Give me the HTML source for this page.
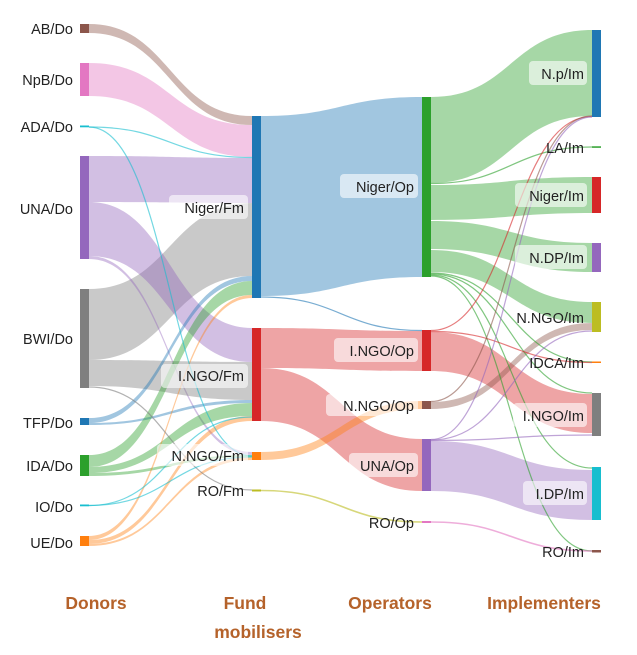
<!DOCTYPE html>
<html><head><meta charset="utf-8"><style>
html,body{margin:0;padding:0;background:#fff;}
svg{display:block;font-family:"Liberation Sans",sans-serif;}
.l{font-size:14.5px;fill:#222;}
.h{font-size:17.5px;font-weight:bold;fill:#b5622a;}
</style></head><body>
<svg width="637" height="655" viewBox="0 0 637 655" xmlns="http://www.w3.org/2000/svg">
<g fill-opacity="0.42" stroke="none">
<!-- Donor -> Fm -->
<path fill="#8c564b" d="M89 24C170 24 170 116 252 116L252 125C170 125 170 33 89 33Z"/>
<path fill="#e377c2" d="M89 63C170 63 170 125 252 125L252 157C170 157 170 96 89 96Z"/>
<path fill="#9467bd" d="M89 156C170 156 170 158 252 158L252 203C170 203 170 202 89 202Z"/>
<path fill="#7f7f7f" d="M89 289C170 289 170 203 252 203L252 276C170 276 170 360 89 360Z"/>
<path fill="#9467bd" d="M89 202C170 202 170 328 252 328L252 362C170 362 170 256 89 256Z"/>
<path fill="#9467bd" d="M89 256C170 256 170 452 252 452L252 455C170 455 170 259 89 259Z"/>
<path fill="#7f7f7f" d="M89 360C170 360 170 362 252 362L252 400C170 400 170 386 89 386Z"/>
<path fill="#1f77b4" d="M89 418C170 418 170 276 252 276L252 281C170 281 170 423 89 423Z"/>
<path fill="#1f77b4" d="M89 423C170 423 170 400 252 400L252 403C170 403 170 425 89 425Z"/>
<path fill="#2ca02c" d="M89 455C170 455 170 281 252 281L252 295C170 295 170 467 89 467Z"/>
<path fill="#2ca02c" d="M89 467C170 467 170 403 252 403L252 416C170 416 170 473 89 473Z"/>
<path fill="#2ca02c" d="M89 473C170 473 170 455 252 455L252 457C170 457 170 476 89 476Z"/>
<path fill="#ff7f0e" d="M89 536C170 536 170 295 252 295L252 298C170 298 170 540 89 540Z"/>
<path fill="#ff7f0e" d="M89 540C170 540 170 416 252 416L252 421C170 421 170 544 89 544Z"/>
<path fill="#ff7f0e" d="M89 544C170 544 170 457 252 457L252 460C170 460 170 546 89 546Z"/>
<!-- Fm -> Op -->
<path fill="#1f77b4" d="M261 116C341 116 341 97 422 97L422 277C341 277 341 296 261 296Z"/>
<path fill="#d62728" d="M261 328C341 328 341 331 422 331L422 371C341 371 341 368 261 368Z"/>
<path fill="#d62728" d="M261 368C341 368 341 439 422 439L422 491C341 491 341 421 261 421Z"/>
<path fill="#ff7f0e" d="M261 452C341 452 341 401 422 401L422 409C341 409 341 460 261 460Z"/>
<!-- Op -> Im -->
<path fill="#2ca02c" d="M431 97C511 97 511 30 592 30L592 116C511 116 511 183 431 183Z"/>
<path fill="#2ca02c" d="M431 185C511 185 511 177 592 177L592 213C511 213 511 220 431 220Z"/>
<path fill="#2ca02c" d="M431 221C511 221 511 243 592 243L592 272C511 272 511 249 431 249Z"/>
<path fill="#2ca02c" d="M431 250C511 250 511 302 592 302L592 323C511 323 511 272 431 272Z"/>
<path fill="#d62728" d="M431 332C511 332 511 394 592 394L592 433C511 433 511 371 431 371Z"/>
<path fill="#8c564b" d="M431 402C511 402 511 323 592 323L592 330C511 330 511 409 431 409Z"/>
<path fill="#9467bd" d="M431 441C511 441 511 470 592 470L592 520C511 520 511 491 431 491Z"/>
</g>
<g fill="none" stroke-opacity="0.6" stroke-width="1.2">
<path stroke="#17becf" d="M89 127C170 127 170 157.5 252 157.5"/>
<path stroke="#17becf" d="M89 127C170 127 170 456 252 456"/>
<path stroke="#7f7f7f" d="M89 387C170 387 170 490 252 490"/>
<path stroke="#17becf" d="M89 505.5C170 505.5 170 457 252 457"/>
<path stroke="#17becf" d="M89 505.5C170 505.5 170 417 252 417"/>
<path stroke="#1f77b4" d="M261 297C341 297 341 330.5 422 330.5"/>
<path stroke="#bcbd22" stroke-width="1.6" d="M261 490.5C341 490.5 341 522 422 522"/>
<path stroke="#2ca02c" d="M431 183.5C511 183.5 511 147 592 147"/>
<path stroke="#2ca02c" d="M431 273C511 273 511 362 592 362"/>
<path stroke="#2ca02c" d="M431 274C511 274 511 393 592 393"/>
<path stroke="#2ca02c" d="M431 275C511 275 511 468 592 468"/>
<path stroke="#2ca02c" d="M431 276C511 276 511 551 592 551"/>
<path stroke="#d62728" d="M431 330.5C511 330.5 511 116.5 592 116.5"/>
<path stroke="#d62728" d="M431 331.5C511 331.5 511 362.5 592 362.5"/>
<path stroke="#8c564b" d="M431 401.5C511 401.5 511 116 592 116"/>
<path stroke="#9467bd" d="M431 439.5C511 439.5 511 117 592 117"/>
<path stroke="#9467bd" d="M431 440C511 440 511 331 592 331"/>
<path stroke="#9467bd" d="M431 440.5C511 440.5 511 435 592 435"/>
<path stroke="#e377c2" stroke-width="1.6" d="M431 522C511 522 511 551 592 551"/>
</g>
<!-- nodes -->
<g>
<rect x="80" y="24" width="9" height="9" fill="#8c564b"/>
<rect x="80" y="63" width="9" height="33" fill="#e377c2"/>
<rect x="80" y="125.5" width="9" height="1.8" fill="#17becf"/>
<rect x="80" y="156" width="9" height="103" fill="#9467bd"/>
<rect x="80" y="289" width="9" height="99" fill="#7f7f7f"/>
<rect x="80" y="418" width="9" height="7" fill="#1f77b4"/>
<rect x="80" y="455" width="9" height="21" fill="#2ca02c"/>
<rect x="80" y="504.5" width="9" height="1.8" fill="#17becf"/>
<rect x="80" y="536" width="9" height="10" fill="#ff7f0e"/>
<rect x="252" y="116" width="9" height="182" fill="#1f77b4"/>
<rect x="252" y="328" width="9" height="93" fill="#d62728"/>
<rect x="252" y="452" width="9" height="8" fill="#ff7f0e"/>
<rect x="252" y="489.5" width="9" height="2" fill="#bcbd22"/>
<rect x="422" y="97" width="9" height="180" fill="#2ca02c"/>
<rect x="422" y="330" width="9" height="41" fill="#d62728"/>
<rect x="422" y="401" width="9" height="8" fill="#8c564b"/>
<rect x="422" y="439" width="9" height="52" fill="#9467bd"/>
<rect x="422" y="521" width="9" height="2" fill="#e377c2"/>
<rect x="592" y="30" width="9" height="87" fill="#1f77b4"/>
<rect x="592" y="146.3" width="9" height="1.5" fill="#2ca02c"/>
<rect x="592" y="177" width="9" height="36" fill="#d62728"/>
<rect x="592" y="243" width="9" height="29" fill="#9467bd"/>
<rect x="592" y="302" width="9" height="30" fill="#bcbd22"/>
<rect x="592" y="361.5" width="9" height="1.5" fill="#ff7f0e"/>
<rect x="592" y="393" width="9" height="43" fill="#7f7f7f"/>
<rect x="592" y="467" width="9" height="53" fill="#17becf"/>
<rect x="592" y="550" width="9" height="2.5" fill="#8c564b"/>
</g>
<!-- label boxes -->
<g fill="#fff" fill-opacity="0.6">
<rect x="169" y="195" width="79" height="24" rx="4"/>
<rect x="161" y="364" width="87" height="24" rx="4"/>
<rect x="157" y="444" width="91" height="22" rx="4"/>
<rect x="340" y="174" width="78" height="24" rx="4"/>
<rect x="334" y="338" width="84" height="24" rx="4"/>
<rect x="326" y="394" width="92" height="22" rx="4"/>
<rect x="349" y="453" width="69" height="24" rx="4"/>
<rect x="529" y="61" width="58" height="24" rx="4"/>
<rect x="515" y="183" width="72" height="24" rx="4"/>
<rect x="515" y="245" width="72" height="24" rx="4"/>
<rect x="513" y="403" width="74" height="24" rx="4"/>
<rect x="523" y="481" width="64" height="24" rx="4"/>
</g>
<g class="l" text-anchor="end">
<text x="73" y="34">AB/Do</text>
<text x="73" y="85">NpB/Do</text>
<text x="73" y="132">ADA/Do</text>
<text x="73" y="214">UNA/Do</text>
<text x="73" y="344">BWI/Do</text>
<text x="73" y="428">TFP/Do</text>
<text x="73" y="471">IDA/Do</text>
<text x="73" y="512">IO/Do</text>
<text x="73" y="548">UE/Do</text>
<text x="244" y="213">Niger/Fm</text>
<text x="244" y="381">I.NGO/Fm</text>
<text x="244" y="461">N.NGO/Fm</text>
<text x="244" y="496">RO/Fm</text>
<text x="414" y="192">Niger/Op</text>
<text x="414" y="356">I.NGO/Op</text>
<text x="414" y="411">N.NGO/Op</text>
<text x="414" y="471">UNA/Op</text>
<text x="414" y="528">RO/Op</text>
<text x="584" y="79">N.p/Im</text>
<text x="584" y="153">LA/Im</text>
<text x="584" y="201">Niger/Im</text>
<text x="584" y="263">N.DP/Im</text>
<text x="584" y="323">N.NGO/Im</text>
<text x="584" y="368">IDCA/Im</text>
<text x="584" y="421">I.NGO/Im</text>
<text x="584" y="499">I.DP/Im</text>
<text x="584" y="557">RO/Im</text>
</g>
<g class="h" text-anchor="middle">
<text x="96" y="609">Donors</text>
<text x="245" y="609">Fund</text>
<text x="258" y="638">mobilisers</text>
<text x="390" y="609">Operators</text>
<text x="544" y="609">Implementers</text>
</g>
</svg>
</body></html>
